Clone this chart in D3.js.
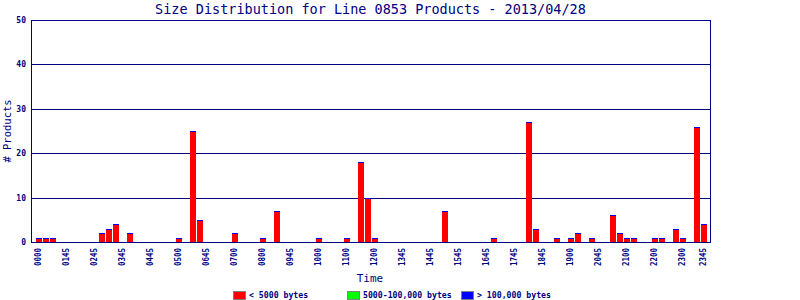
<!DOCTYPE html>
<html>
<head>
<meta charset="utf-8">
<script src="https://cdn.jsdelivr.net/npm/d3@7/dist/d3.min.js"></script>
<style>
  html, body { margin: 0; padding: 0; background: #fff; }
  svg { display: block; }
</style>
</head>
<body>
<svg id="chart" width="800" height="300"></svg>
<script>
// ---- data ----
const title = "Size Distribution for Line 0853 Products - 2013/04/28";
// 96 fifteen-minute slots (index 0..95)
const slots = d3.range(96);
const smallCounts = [
  1,1,1,0,0,0,0,0,0,2,3,4,0,2,0,0,
  0,0,0,0,1,0,25,5,0,0,0,0,2,0,0,0,
  1,0,7,0,0,0,0,0,1,0,0,0,1,0,18,10,
  1,0,0,0,0,0,0,0,0,0,7,0,0,0,0,0,
  0,1,0,0,0,0,27,3,0,0,1,0,1,2,0,1,
  0,0,6,2,1,1,0,0,1,1,0,3,1,0,26,4
];
const mediumCounts = new Array(96).fill(0);
const largeCounts = new Array(96).fill(0);
const tickSlots = [0,4,8,12,16,20,24,28,32,36,40,44,48,52,56,60,64,68,72,76,80,84,88,92,95];
const tickLabels = ["0000","0145","0245","0345","0445","0500","0645","0700","0800","0945",
  "1000","1100","1200","1345","1445","1545","1645","1745","1845","1900","2045","2100",
  "2200","2300","2345"];
const yTicks = [0,10,20,30,40,50];
const seriesNames = ["< 5000 bytes","5000-100,000 bytes","> 100,000 bytes"];
const seriesColors = ["#ff0000","#00ff00","#0000ff"];

// ---- layout ----
const navy = "#000080";
const font = "'DejaVu Sans Mono', monospace";
const plot = { left: 31, right: 710, top: 20, bottom: 242 };

const svg = d3.select("#chart");

const x = d3.scaleBand().domain(slots).range([35, 707]).padding(0);
const y = d3.scaleLinear().domain([0, 50]).range([plot.bottom, plot.top]);

// title
svg.append("text")
  .attr("x", (plot.left + plot.right) / 2).attr("y", 14)
  .attr("text-anchor", "middle")
  .attr("font-family", font).attr("font-size", 13.5)
  .attr("fill", navy)
  .text(title);

// grid / y axis
const yAxis = d3.axisLeft(y).tickValues(yTicks)
  .tickSize(-(plot.right - plot.left)).tickSizeOuter(0).tickPadding(4);
const gy = svg.append("g").attr("transform", `translate(${plot.left},0)`).call(yAxis);
gy.select(".domain").remove();
gy.selectAll(".tick line").attr("stroke", navy).attr("stroke-width", 1)
  .attr("shape-rendering", "crispEdges");
gy.selectAll(".tick text")
  .attr("fill", navy).attr("font-family", font).attr("font-size", 8)
  .attr("font-weight", "bold").attr("x", -5);

// stacked bars
const stackData = slots.map(i => ({ i, s: smallCounts[i], m: mediumCounts[i], l: largeCounts[i] }));
const stack = d3.stack().keys(["s","m","l"])(stackData);
const gBars = svg.append("g").attr("shape-rendering", "crispEdges");
stack.forEach((layer, k) => {
  gBars.selectAll(null).data(layer.filter(d => d[1] > d[0])).enter().append("rect")
    .attr("x", d => x(d.data.i) + 1)
    .attr("width", x.bandwidth() - 1)
    .attr("y", d => y(d[1]))
    .attr("height", d => y(d[0]) - y(d[1]))
    .attr("fill", seriesColors[k]);
});
// top edge of each stack
gBars.selectAll(null).data(stackData.filter(d => d.s + d.m + d.l > 0)).enter().append("rect")
  .attr("x", d => x(d.i) + 1)
  .attr("width", x.bandwidth() - 1)
  .attr("y", d => y(d.s + d.m + d.l))
  .attr("height", 1)
  .attr("fill", "#0000ff");

// frame
svg.append("rect")
  .attr("x", plot.left + 0.5).attr("y", plot.top + 0.5)
  .attr("width", plot.right - plot.left).attr("height", plot.bottom - plot.top)
  .attr("fill", "none").attr("stroke", navy).attr("stroke-width", 1);

// x axis labels
const xAxis = d3.axisBottom(x).tickValues(tickSlots)
  .tickFormat(d => tickLabels[tickSlots.indexOf(d)]).tickSize(0);
const gx = svg.append("g").attr("transform", `translate(0,${plot.bottom})`).call(xAxis);
gx.select(".domain").remove();
gx.selectAll(".tick text")
  .attr("fill", navy).attr("font-family", font).attr("font-size", 8.5)
  .attr("font-weight", "bold")
  .attr("text-anchor", "end")
  .attr("transform", "rotate(-90)")
  .attr("x", -6).attr("y", 0).attr("dy", "0.35em")
  .attr("textLength", 18).attr("lengthAdjust", "spacingAndGlyphs");

// axis titles
svg.append("text")
  .attr("x", 370).attr("y", 282)
  .attr("text-anchor", "middle")
  .attr("font-family", font).attr("font-size", 11)
  .attr("fill", navy).text("Time");
svg.append("text")
  .attr("transform", "translate(11,131) rotate(-90)")
  .attr("text-anchor", "middle")
  .attr("font-family", font).attr("font-size", 10.5)
  .attr("fill", navy).text("# Products");

// legend
const legendX = [233, 347, 461];
const lg = svg.append("g");
seriesNames.forEach((name, k) => {
  lg.append("rect")
    .attr("x", legendX[k] + 0.5).attr("y", 291.5)
    .attr("width", 12).attr("height", 8)
    .attr("fill", seriesColors[k]).attr("stroke", "#808080").attr("stroke-width", 1);
  lg.append("text")
    .attr("x", legendX[k] + 16).attr("y", 298)
    .attr("font-family", font).attr("font-size", 8.2).attr("font-weight", "bold")
    .attr("fill", navy).text(name);
});
</script>
</body>
</html>
